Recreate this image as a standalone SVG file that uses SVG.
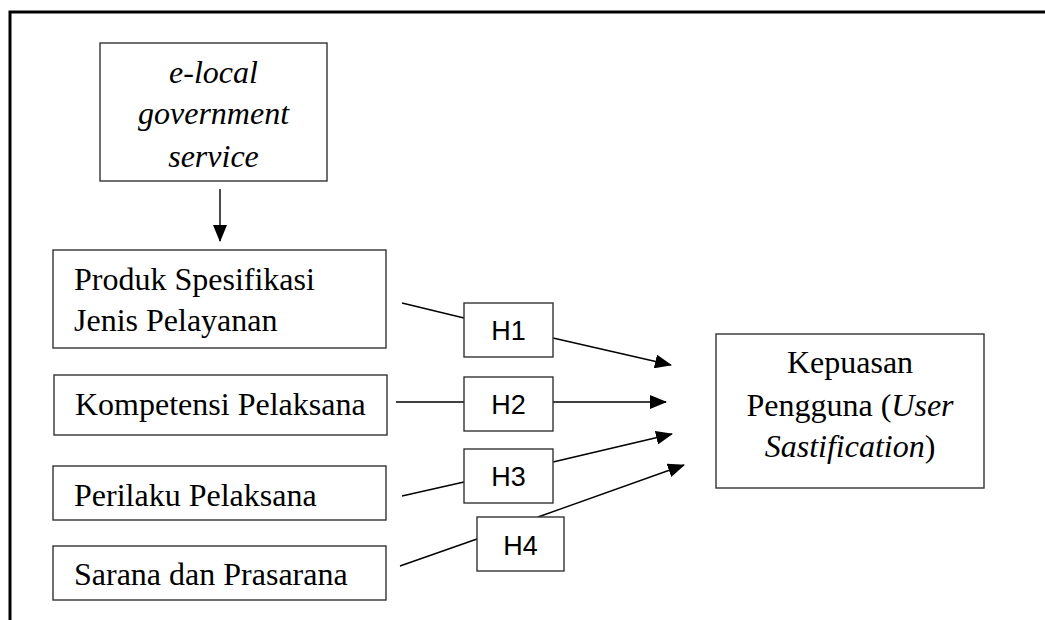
<svg xmlns="http://www.w3.org/2000/svg" width="1045" height="620" viewBox="0 0 1045 620">
<style>
.box{fill:#fff;stroke:#333;stroke-width:1.4}
.t{font-family:"Liberation Serif","Times New Roman",serif;font-size:32px;fill:#000}
.h{font-family:"Liberation Sans",Arial,sans-serif;font-size:27px;fill:#000;text-anchor:middle}
.c{stroke:#000;stroke-width:1.4;fill:none}
.frame{stroke:#000;stroke-width:3;fill:none}
</style>
<defs>
<marker id="ah" markerWidth="17" markerHeight="14" refX="16" refY="7" orient="auto" markerUnits="userSpaceOnUse">
<path d="M0,0 L17,7 L0,14 Z" fill="#000"/>
</marker>
</defs>
<rect width="1045" height="620" fill="#fff"/>
<path class="frame" d="M10,620 V12 H1045"/>
<g id="n-elocal">
<rect class="box" x="100" y="43" width="227" height="138"/>
<text class="t" x="213.5" y="83" text-anchor="middle" font-style="italic">e-local</text>
<text class="t" x="213.5" y="124" text-anchor="middle" font-style="italic">government</text>
<text class="t" x="213.5" y="167" text-anchor="middle" font-style="italic">service</text>
</g>
<g id="n-produk">
<rect class="box" x="53" y="250" width="333" height="98"/>
<text class="t" x="74" y="290">Produk Spesifikasi</text>
<text class="t" x="74" y="331">Jenis Pelayanan</text>
</g>
<g id="n-kompetensi">
<rect class="box" x="54" y="375" width="333" height="60"/>
<text class="t" x="75" y="415">Kompetensi Pelaksana</text>
</g>
<g id="n-perilaku">
<rect class="box" x="53" y="466" width="333" height="54"/>
<text class="t" x="74" y="506">Perilaku Pelaksana</text>
</g>
<g id="n-sarana">
<rect class="box" x="53" y="546" width="333" height="54"/>
<text class="t" x="74" y="585">Sarana dan Prasarana</text>
</g>
<g id="n-kepuasan">
<rect class="box" x="716" y="334" width="268" height="154"/>
<text class="t" x="850" y="373" text-anchor="middle">Kepuasan</text>
<text class="t" x="850" y="416" text-anchor="middle">Pengguna (<tspan font-style="italic">User</tspan></text>
<text class="t" x="850" y="457" text-anchor="middle"><tspan font-style="italic">Sastification</tspan>)</text>
</g>
<g id="connectors">
<line class="c" x1="220" y1="189" x2="220" y2="241" marker-end="url(#ah)"/>
<line class="c" x1="402" y1="303" x2="464" y2="318"/>
<line class="c" x1="553" y1="338" x2="671" y2="365" marker-end="url(#ah)"/>
<line class="c" x1="396" y1="402" x2="464" y2="402"/>
<line class="c" x1="553" y1="402" x2="666" y2="402" marker-end="url(#ah)"/>
<line class="c" x1="402" y1="496" x2="464" y2="482"/>
<line class="c" x1="553" y1="462" x2="672" y2="434" marker-end="url(#ah)"/>
<line class="c" x1="400" y1="566" x2="477" y2="539"/>
<line class="c" x1="538" y1="517" x2="684" y2="465" marker-end="url(#ah)"/>
</g>
<g id="n-h1">
<rect class="box" x="464" y="303" width="89" height="54"/>
<text class="h" x="508.5" y="340">H1</text>
</g>
<g id="n-h2">
<rect class="box" x="464" y="377" width="89" height="54"/>
<text class="h" x="508.5" y="414">H2</text>
</g>
<g id="n-h3">
<rect class="box" x="464" y="449" width="89" height="54"/>
<text class="h" x="508.5" y="486">H3</text>
</g>
<g id="n-h4">
<rect class="box" x="477" y="517" width="87" height="54"/>
<text class="h" x="520.5" y="555">H4</text>
</g>
</svg>
